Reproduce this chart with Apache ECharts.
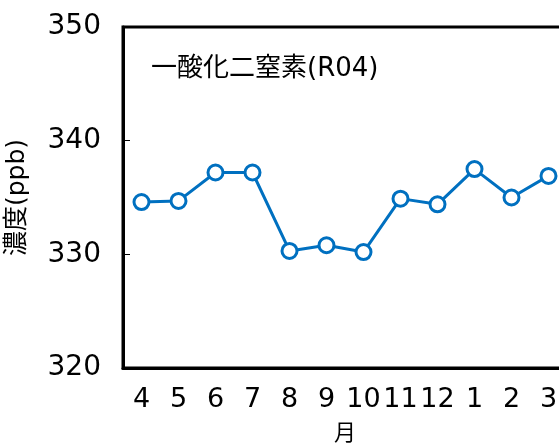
<!DOCTYPE html>
<html><head><meta charset="utf-8">
<script src="https://cdn.jsdelivr.net/npm/echarts@6/dist/echarts.min.js"></script>
<style>html,body{margin:0;padding:0;background:#fff}#c{width:559px;height:444px}</style>
</head><body><div id="c"></div>
<script>
const months = ['4','5','6','7','8','9','10','11','12','1','2','3'];
const values = [334.6, 334.7, 337.2, 337.2, 330.3, 330.8, 330.2, 334.9, 334.4, 337.5, 335.0, 336.9];
const chartTitle = '一酸化二窒素(R04)';
const yName = '濃度(ppb)';
const xName = '月';
const yMin = 320, yMax = 350, yStep = 10;

const font = "'DejaVu Sans','Noto Sans CJK JP',sans-serif";
const chart = echarts.init(document.getElementById('c'), null, {renderer: 'canvas'});
chart.setOption({
  animation: false,
  backgroundColor: '#fff',
  title: {
    text: chartTitle, left: 146, top: 51,
    textStyle: {fontFamily: font, fontSize: 26, fontWeight: 'normal', color: '#000'}
  },
  grid: {left: 123, top: 27, width: 444, height: 341, show: true, borderColor: '#000', borderWidth: 3,
         backgroundColor: 'transparent', containLabel: false, outerBoundsMode: 'none'},
  xAxis: {
    type: 'category', data: months, boundaryGap: true,
    name: xName, nameLocation: 'middle', nameGap: 55,
    nameTextStyle: {fontFamily: font, fontSize: 22, color: '#000'},
    axisLine: {lineStyle: {color: '#000', width: 3}},
    axisTick: {inside: true, length: 7, lineStyle: {color: '#000', width: 1}},
    axisLabel: {fontFamily: font, fontSize: 27, color: '#000', margin: 18, interval: 0}
  },
  yAxis: {
    type: 'value', min: yMin, max: yMax, interval: yStep,
    name: yName, nameLocation: 'middle', nameGap: 93, nameRotate: 90,
    nameTextStyle: {fontFamily: font, fontSize: 25, color: '#000'},
    splitLine: {show: false},
    axisLine: {show: true, lineStyle: {color: '#000', width: 3}},
    axisTick: {show: true, inside: true, length: 7, lineStyle: {color: '#000', width: 1}},
    axisLabel: {fontFamily: font, fontSize: 28, color: '#000', margin: 22}
  },
  series: [{
    type: 'line', data: values,
    lineStyle: {color: '#0070C0', width: 3},
    symbol: 'circle', symbolSize: 15,
    itemStyle: {color: '#fff', borderColor: '#0070C0', borderWidth: 3}
  }]
});
</script></body></html>
